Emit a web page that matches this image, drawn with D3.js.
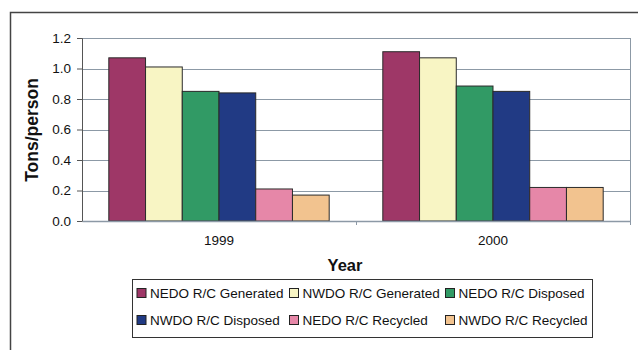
<!DOCTYPE html>
<html>
<head>
<meta charset="utf-8">
<script src="https://cdn.jsdelivr.net/npm/d3@7"></script>
<style>
  body { margin: 0; background: #fff; }
  text { font-family: "Liberation Sans", Arial, sans-serif; fill: #111; }
</style>
</head>
<body>
<div id="chart"></div>
<script>
// data
var years = ["1999", "2000"];
var seriesNames = ["NEDO R/C Generated", "NWDO R/C Generated", "NEDO R/C Disposed",
                   "NWDO R/C Disposed", "NEDO R/C Recycled", "NWDO R/C Recycled"];
var values1999 = [1.07, 1.01, 0.85, 0.84, 0.21, 0.17];
var values2000 = [1.11, 1.07, 0.885, 0.85, 0.22, 0.22];
var yTicks = [0, 0.2, 0.4, 0.6, 0.8, 1.0, 1.2];

var colors = ["#9e3767", "#f8f5c4", "#319a65", "#213a84", "#e687a8", "#f2c38f"];

var W = 638, H = 350;
var plot = { left: 82, right: 630, top: 38, bottom: 221 };

var svg = d3.select("#chart")
    .append("svg")
    .attr("width", W)
    .attr("height", H);

// outer chart frame (runs off the right and bottom edge)
svg.append("rect")
    .attr("x", 10.5).attr("y", 12.5)
    .attr("width", 700).attr("height", 400)
    .attr("fill", "none")
    .attr("stroke", "#444")
    .attr("stroke-width", 1.5);

var rows = years.map(function(y, i) {
    return { year: y, vals: [values1999, values2000][i] };
});

var x0 = d3.scaleBand()
    .domain(years)
    .range([plot.left, plot.right]);

var x1 = d3.scaleBand()
    .domain(d3.range(seriesNames.length))
    .range([0, x0.bandwidth()])
    .paddingOuter(0.73);

var y = d3.scaleLinear()
    .domain([0, 1.2])
    .range([plot.bottom, plot.top]);

// gridlines
svg.append("g")
    .selectAll("line")
    .data(yTicks.slice(1))
    .enter()
    .append("line")
    .attr("x1", plot.left).attr("x2", plot.right)
    .attr("y1", function(d) { return Math.round(y(d)) + 0.5; })
    .attr("y2", function(d) { return Math.round(y(d)) + 0.5; })
    .attr("stroke", "#8c99a6")
    .attr("stroke-width", 1);

// right border of plot area
svg.append("line")
    .attr("x1", plot.right + 0.5).attr("x2", plot.right + 0.5)
    .attr("y1", plot.top).attr("y2", plot.bottom + 4)
    .attr("stroke", "#8c99a6");

// bars
var groups = svg.append("g")
    .selectAll("g")
    .data(rows)
    .enter()
    .append("g")
    .attr("transform", function(d) { return "translate(" + x0(d.year) + ",0)"; });

groups.selectAll("rect")
    .data(function(d) { return d.vals.map(function(v, i) { return { i: i, v: v }; }); })
    .enter()
    .append("rect")
    .attr("x", function(d) { return x1(d.i); })
    .attr("width", x1.bandwidth())
    .attr("y", function(d) { return y(d.v); })
    .attr("height", function(d) { return y(0) - y(d.v); })
    .attr("fill", function(d) { return colors[d.i]; })
    .attr("stroke", "#2a2a2a")
    .attr("stroke-width", 1);

// y axis
var yAxis = svg.append("g")
    .attr("transform", "translate(" + plot.left + ",0)")
    .call(d3.axisLeft(y).tickValues(yTicks).tickFormat(d3.format(".1f")).tickSize(5).tickPadding(6));
yAxis.select(".domain").attr("stroke", "#555");
yAxis.selectAll(".tick line").attr("stroke", "#555");
yAxis.selectAll("text")
    .style("font-size", "13.5px")
    .style("font-family", "Liberation Sans, Arial, sans-serif")
    .attr("fill", "#111");

// x axis
var xAxis = svg.append("g")
    .attr("transform", "translate(0," + plot.bottom + ")")
    .call(d3.axisBottom(x0).tickSize(0).tickPadding(14));
xAxis.select(".domain").attr("stroke", "#8c99a6").attr("stroke-width", 1.5);
xAxis.selectAll("text")
    .style("font-size", "13.5px")
    .style("font-family", "Liberation Sans, Arial, sans-serif")
    .attr("fill", "#111");

// tick marks between categories
svg.append("g")
    .selectAll("line")
    .data(years.slice(1))
    .enter()
    .append("line")
    .attr("x1", function(d) { return x0(d) + 0.5; })
    .attr("x2", function(d) { return x0(d) + 0.5; })
    .attr("y1", plot.bottom).attr("y2", plot.bottom + 4)
    .attr("stroke", "#8c99a6");

// axis titles
svg.append("text")
    .attr("x", 345).attr("y", 271)
    .attr("text-anchor", "middle")
    .style("font-size", "16.5px")
    .style("font-weight", "bold")
    .text("Year");

svg.append("text")
    .attr("transform", "translate(37.5,130) rotate(-90)")
    .attr("text-anchor", "middle")
    .style("font-size", "17.5px")
    .style("font-weight", "bold")
    .text("Tons/person");

// legend
var legend = svg.append("g");
legend.append("rect")
    .attr("x", 132.5).attr("y", 279.5)
    .attr("width", 460).attr("height", 58)
    .attr("fill", "#fff")
    .attr("stroke", "#333");

var colX = [137, 289.5, 445.5];
var rowY = [293, 320];

var items = legend.selectAll("g.item")
    .data(seriesNames)
    .enter()
    .append("g")
    .attr("class", "item")
    .attr("transform", function(d, i) {
        return "translate(" + colX[i % 3] + "," + rowY[Math.floor(i / 3)] + ")";
    });

items.append("rect")
    .attr("x", 0).attr("y", -4.5)
    .attr("width", 9).attr("height", 9)
    .attr("fill", function(d, i) { return colors[i]; })
    .attr("stroke", "#222");

items.append("text")
    .attr("x", 13).attr("y", 0)
    .attr("dy", "0.35em")
    .style("font-size", "13.5px")
    .text(function(d) { return d; });
</script>
</body>
</html>
